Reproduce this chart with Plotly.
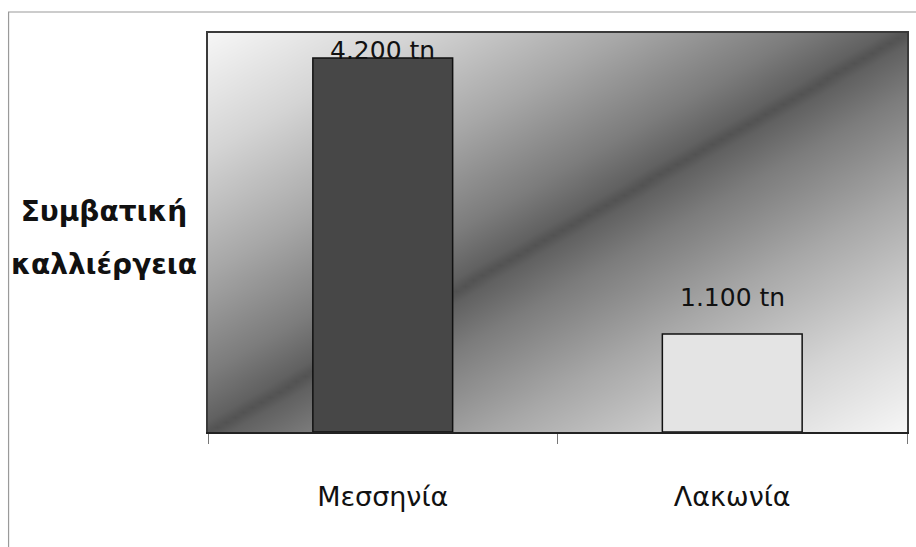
import numpy as np
import plotly.graph_objects as go

# ---- data ----
regions = ["Μεσσηνία", "Λακωνία"]
production_tn = [4200, 1100]
value_labels = ["4.200 tn", "1.100 tn"]
y_title_lines = ["Συμβατική", "καλλιέργεια"]

FONT = "DejaVu Sans, Noto Sans, sans-serif"

fig = go.Figure()

# ---- background gradient (dark along the rising diagonal, light in the corners) ----
n = 80
g = np.linspace(0, 1, n)
gx, gy = np.meshgrid(g, g)
dist = np.abs(gx - gy)
fig.add_trace(go.Heatmap(
    x=g, y=g, z=dist, zmin=0, zmax=1, zsmooth="best",
    colorscale=[[0.0, "#525252"], [0.03, "#616161"], [0.15, "#7c7c7c"],
                [0.4, "#a7a7a7"], [0.7, "#d4d4d4"], [1.0, "#f6f6f6"]],
    showscale=False, hoverinfo="skip", xaxis="x", yaxis="y",
))

# ---- bars ----
fig.add_trace(go.Bar(
    x=regions, y=production_tn, width=0.4,
    marker=dict(color=["#474747", "#e4e4e4"], line=dict(color="#111111", width=1.5)),
    xaxis="x2", yaxis="y2", hoverinfo="skip",
))

ymax = 4480
for cat, val, lab, shift in zip(regions, production_tn, value_labels, [-9, 20]):
    fig.add_annotation(
        x=cat, y=val, xref="x2", yref="y2", text=lab, showarrow=False,
        yanchor="bottom", yshift=shift,
        font=dict(family=FONT, size=25, color="#111111"),
    )

# horizontal axis title, two lines, spaced like the original
for line, ypos in zip(y_title_lines, [0.553, 0.42]):
    fig.add_annotation(
        x=0, y=ypos, xref="paper", yref="paper", xanchor="right", yanchor="middle",
        xshift=-4, text=f"<b>{line}</b>", showarrow=False, align="center",
        width=196, font=dict(family=FONT, size=28, color="#111111"),
    )

# outer chart frame
fig.add_shape(type="rect", xref="paper", yref="paper",
              x0=-0.2853, x1=1.03, y0=-0.32, y1=1.0526,
              line=dict(color="#9a9a9a", width=1.2), fillcolor="rgba(0,0,0,0)", layer="below")

fig.update_layout(
    width=916, height=547,
    margin=dict(l=208, r=7, t=33, b=115),
    paper_bgcolor="white", plot_bgcolor="white",
    showlegend=False,
    xaxis=dict(range=[0, 1], showgrid=False, zeroline=False, showticklabels=False,
               ticks="", showline=True, mirror=True, linecolor="#3a3a3a", linewidth=1.5),
    yaxis=dict(range=[0, 1], showgrid=False, zeroline=False, showticklabels=False,
               ticks="", showline=True, mirror=True, linecolor="#3a3a3a", linewidth=1.5),
    xaxis2=dict(overlaying="x", anchor="y2", side="bottom", type="category",
                tickson="boundaries", ticks="outside", ticklen=10, tickcolor="#777777",
                showgrid=False, zeroline=False, showline=True, linecolor="#222222", linewidth=1.5,
                ticklabelstandoff=40,
                tickfont=dict(family=FONT, size=27, color="#111111")),
    yaxis2=dict(overlaying="y", anchor="x2", range=[0, ymax], showgrid=False,
                zeroline=False, showticklabels=False, ticks="", showline=False),
)

fig.write_html("out.html", config={"displayModeBar": False},
               post_script="document.body.style.margin='0';")
